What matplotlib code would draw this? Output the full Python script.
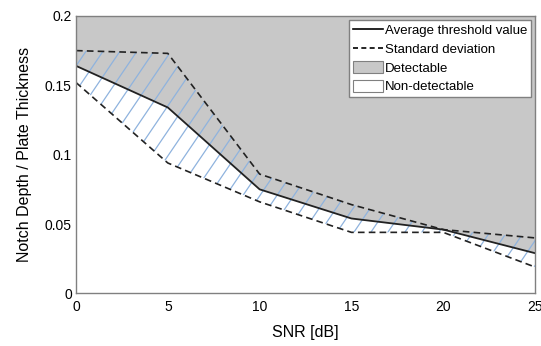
import numpy as np
import matplotlib.pyplot as plt
from matplotlib.patches import Patch
from matplotlib.lines import Line2D
from matplotlib.collections import LineCollection

snr = [0, 5, 10, 15, 20, 25]
avg_threshold = [0.164, 0.134, 0.075, 0.054, 0.046, 0.029]
std_upper = [0.175, 0.173, 0.086, 0.064, 0.046, 0.040]
std_lower = [0.152, 0.094, 0.066, 0.044, 0.044, 0.019]
y_ticks = [0, 0.05, 0.1, 0.15, 0.2]
y_tick_labels = ['0', '0.05', '0.1', '0.15', '0.2']

plt.rcParams['font.family'] = ['Liberation Sans', 'DejaVu Sans']

fig = plt.figure(figsize=(5.41, 3.46), dpi=100)
ax = fig.add_axes([0.1405, 0.152, 0.8485, 0.802])

# detectable region above the average threshold
ax.fill_between(snr, avg_threshold, 0.2, color='#c8c8c8', linewidth=0)
# spread of the threshold, hatched with steep blue lines
band = ax.fill_between(snr, std_lower, std_upper, facecolor='none', linewidth=0)
step = 0.037
run = 0.41
starts = np.arange(-run, 1.0 + step, step)
segs = [[(s, 0), (s + run, 1)] for s in starts]
hatch = LineCollection(segs, colors='#8fb3de', linewidths=0.9,
                       transform=ax.transAxes)
hatch.set_clip_path(band.get_paths()[0], ax.transData)
ax.add_collection(hatch)

ax.plot(snr, avg_threshold, color='#222222', linewidth=1.3)
ax.plot(snr, std_upper, color='#222222', linewidth=1.2, dashes=(4, 2.5))
ax.plot(snr, std_lower, color='#222222', linewidth=1.2, dashes=(4, 2.5))

ax.set_xlim(0, 25)
ax.set_ylim(0, 0.2)
ax.set_xticks(snr)
ax.set_yticks(y_ticks)
ax.set_yticklabels(y_tick_labels)
ax.tick_params(length=0, labelsize=10)
ax.tick_params(axis='y', pad=3)
ax.tick_params(axis='x', pad=5)
for s in ax.spines.values():
    s.set_color('#808080')
    s.set_linewidth(1.0)

ax.set_xlabel('SNR [dB]', fontsize=11.5, labelpad=8)
ax.set_ylabel('Notch Depth / Plate Thickness', fontsize=11.5, labelpad=9)

handles = [
    Line2D([], [], color='black', linewidth=1.2),
    Line2D([], [], color='black', linewidth=1.2, dashes=(3, 2)),
    Patch(facecolor='#c8c8c8', edgecolor='#808080', linewidth=0.8),
    Patch(facecolor='white', edgecolor='#808080', linewidth=0.8),
]
labels = ['Average threshold value', 'Standard deviation', 'Detectable', 'Non-detectable']
leg = ax.legend(handles, labels, loc='upper right', fontsize=9.5, fancybox=False,
                framealpha=1, edgecolor='#808080', handlelength=2.3,
                handleheight=1.0, handletextpad=0.1, labelspacing=0.4,
                borderpad=0.3, borderaxespad=0.3)
leg.get_frame().set_linewidth(1.0)

fig.savefig('out.png', dpi=100)
